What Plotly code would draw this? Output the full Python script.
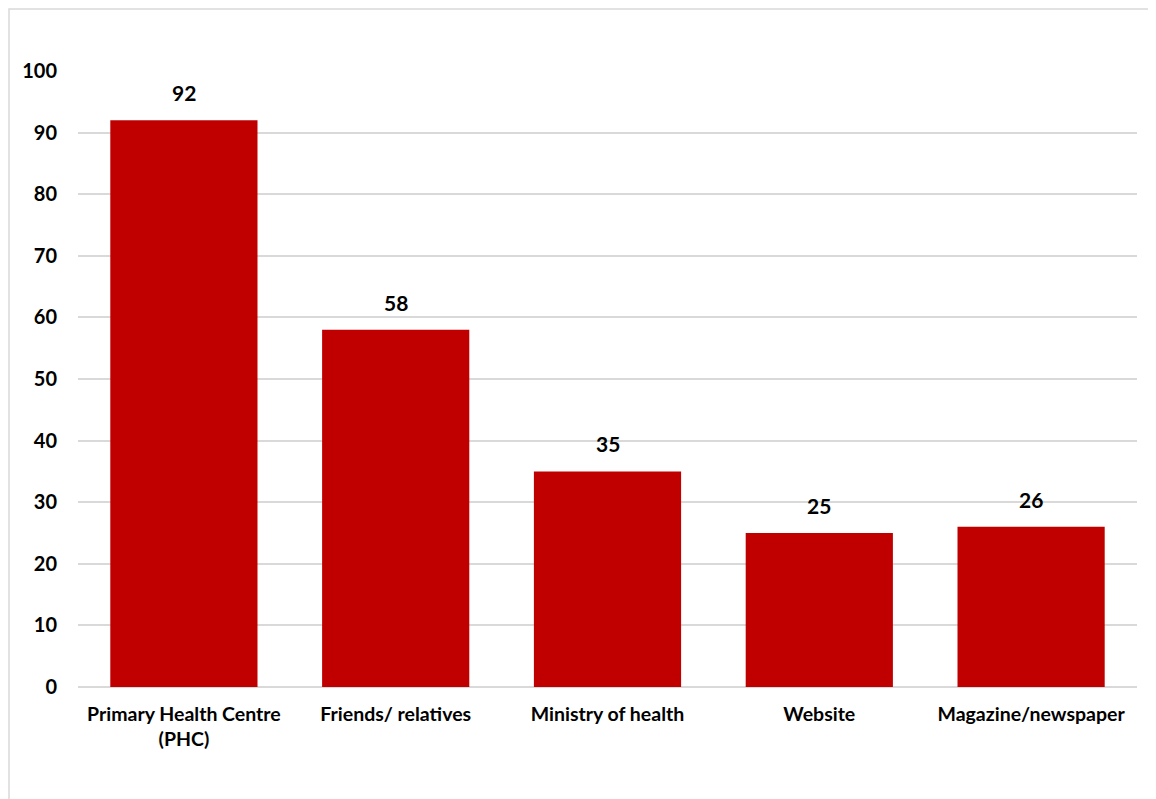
import plotly.graph_objects as go

categories = ["Primary Health Centre<br>(PHC)", "Friends/ relatives", "Ministry of health", "Website", "Magazine/newspaper"]
values = [92, 58, 35, 25, 26]
y_ticks = [0, 10, 20, 30, 40, 50, 60, 70, 80, 90, 100]

FONT = "Lato, 'Open Sans', sans-serif"

fig = go.Figure(go.Bar(
    x=categories,
    y=values,
    marker=dict(color="#C00000", line=dict(width=0)),
    width=0.695,
    hoverinfo="x+y",
))

for c, v in zip(categories, values):
    fig.add_annotation(
        x=c, y=v, text=str(v), showarrow=False,
        yanchor="bottom", yshift=13,
        font=dict(family=FONT, size=21, color="#000000", weight="bold"),
    )

fig.update_layout(
    width=1148, height=791,
    margin=dict(l=70, r=19, t=63, b=112),
    paper_bgcolor="white", plot_bgcolor="white",
    showlegend=False,
    font=dict(family=FONT, color="#000000"),
    bargap=0.305,
    xaxis=dict(
        showgrid=False, showline=False, zeroline=False,
        tickfont=dict(family=FONT, size=19.5, color="#000000", weight="bold"),
        ticks="", ticklabelstandoff=13,
    ),
    yaxis=dict(
        range=[0, 100], tickvals=y_ticks,
        showgrid=True, gridcolor="#d9d9d9", gridwidth=1.5,
        zeroline=True, zerolinecolor="#d9d9d9", zerolinewidth=1.5,
        showline=False, ticks="",
        tickfont=dict(family=FONT, size=20, color="#000000", weight="bold"),
        ticklabelstandoff=20,
    ),
    shapes=[dict(
        type="rect", xref="paper", yref="paper",
        x0=(1 - 70) / 1059, x1=1.1, y0=-0.3, y1=(679 - 1) / 616,
        line=dict(color="#d9d9d9", width=1.5), fillcolor="rgba(0,0,0,0)",
        layer="below",
    )],
)

fig.write_html("out.html")
